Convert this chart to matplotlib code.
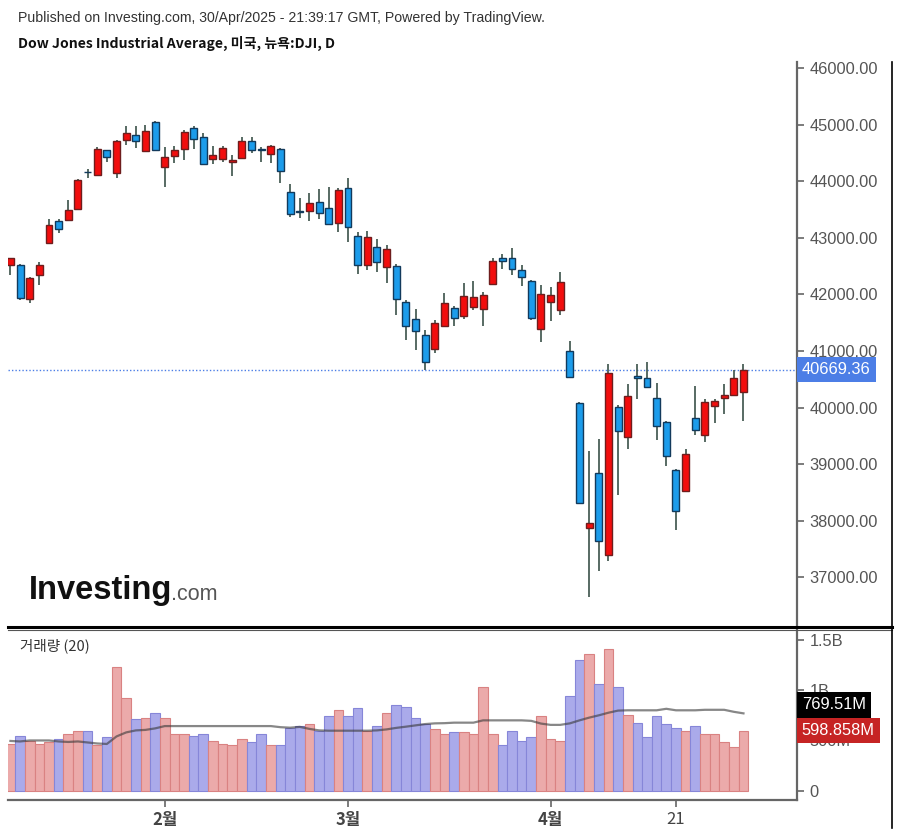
import matplotlib
matplotlib.use("Agg")
import matplotlib.pyplot as plt
from matplotlib.lines import Line2D
import numpy as np

# Daily OHLC, Dow Jones Industrial Average, 8 Jan - 30 Apr 2025
dates = ["01-08", "01-10", "01-13", "01-14", "01-15", "01-16", "01-17", "01-21", "01-22", "01-23",
         "01-24", "01-27", "01-28", "01-29", "01-30", "01-31", "02-03", "02-04", "02-05", "02-06",
         "02-07", "02-10", "02-11", "02-12", "02-13", "02-14", "02-18", "02-19", "02-20", "02-21",
         "02-24", "02-25", "02-26", "02-27", "02-28", "03-03", "03-04", "03-05", "03-06", "03-07",
         "03-10", "03-11", "03-12", "03-13", "03-14", "03-17", "03-18", "03-19", "03-20", "03-21",
         "03-24", "03-25", "03-26", "03-27", "03-28", "03-31", "04-01", "04-02", "04-03", "04-04",
         "04-07", "04-08", "04-09", "04-10", "04-11", "04-14", "04-15", "04-16", "04-17", "04-21",
         "04-22", "04-23", "04-24", "04-25", "04-28", "04-29", "04-30"]
opens = [42520, 42528, 41922, 42345, 42916, 43297, 43315, 43509, 44170, 44108,
         44544, 44138, 44733, 44815, 44532, 45050, 44250, 44438, 44567, 44945,
         44773, 44391, 44391, 44345, 44415, 44708, 44575, 44474, 44567, 43803,
         43480, 43481, 43639, 43527, 43257, 43885, 43040, 42521, 42845, 42488,
         42510, 41863, 41563, 41281, 41040, 41440, 41757, 41610, 41775, 41746,
         42181, 42640, 42645, 42439, 42239, 41387, 41863, 41727, 40993, 40088,
         37865, 38842, 37389, 40005, 39483, 40560, 40518, 40175, 39747, 38895,
         38518, 39812, 39508, 40023, 40165, 40228, 40277]
highs = [42650, 42545, 42310, 42565, 43333, 43330, 43668, 44040, 44214, 44600,
         44560, 44730, 44967, 44967, 44997, 45070, 44609, 44615, 44900, 44967,
         44849, 44627, 44620, 44461, 44785, 44785, 44609, 44640, 44580, 43950,
         43698, 43785, 43862, 43891, 43873, 44050, 43098, 43128, 42980, 42880,
         42540, 41893, 41735, 41375, 41539, 42027, 41793, 42198, 42245, 42050,
         42640, 42705, 42815, 42527, 42260, 42168, 42128, 42392, 41170, 40100,
         39230, 39442, 40775, 40050, 40411, 40775, 40805, 40433, 39760, 38910,
         39275, 40380, 40158, 40158, 40422, 40660, 40775]
lows = [42345, 41900, 41840, 42168, 42900, 43080, 43300, 43490, 44050, 44090,
        44332, 44050, 44645, 44585, 44520, 44530, 43900, 44320, 44368, 44567,
        44285, 44302, 44332, 44098, 44400, 44496, 44332, 44320, 43962, 43362,
        43350, 43305, 43333, 43220, 43110, 42934, 42369, 42428, 42392, 42205,
        41639, 41188, 41011, 40669, 40969, 41420, 41440, 41560, 41716, 41440,
        42170, 42451, 42345, 42145, 41540, 41158, 41522, 41639, 40530, 38295,
        36648, 37119, 37290, 38459, 39275, 40158, 40340, 39423, 38971, 37837,
        38500, 39508, 39395, 39735, 39883, 40200, 39765]
closes = [42635.20, 41938.45, 42297.12, 42518.28, 43221.55, 43153.13, 43487.83, 44025.81, 44156.73, 44565.07,
          44424.25, 44713.58, 44850.35, 44713.52, 44882.13, 44544.66, 44421.91, 44556.04, 44873.28, 44747.63,
          44303.40, 44470.41, 44593.65, 44368.56, 44711.43, 44546.08, 44556.34, 44627.59, 44176.65, 43428.02,
          43461.21, 43621.16, 43433.12, 43239.50, 43840.91, 43191.24, 42520.99, 43006.59, 42579.08, 42801.72,
          41911.71, 41433.48, 41350.93, 40813.57, 41488.19, 41841.63, 41581.31, 41964.63, 41953.32, 41985.35,
          42583.32, 42587.50, 42454.79, 42299.70, 41583.90, 42001.76, 41989.96, 42225.32, 40545.93, 38314.86,
          37965.60, 37645.59, 40608.45, 39593.66, 40212.71, 40524.79, 40368.96, 39669.39, 39142.23, 38170.41,
          39186.98, 39606.57, 40093.40, 40113.50, 40227.59, 40527.62, 40669.36]

# volume in billions and its 20-day average
volume = [0.465, 0.547, 0.497, 0.464, 0.488, 0.514, 0.564, 0.597, 0.597, 0.455,
          0.531, 1.234, 0.919, 0.710, 0.727, 0.770, 0.727, 0.564, 0.564, 0.547,
          0.564, 0.497, 0.464, 0.451, 0.514, 0.481, 0.564, 0.451, 0.451, 0.627,
          0.644, 0.660, 0.597, 0.740, 0.803, 0.740, 0.820, 0.597, 0.644, 0.770,
          0.853, 0.836, 0.727, 0.660, 0.614, 0.564, 0.581, 0.581, 0.564, 1.029,
          0.564, 0.451, 0.597, 0.497, 0.531, 0.740, 0.514, 0.497, 0.945, 1.300,
          1.363, 1.062, 1.410, 1.029, 0.756, 0.677, 0.531, 0.740, 0.660, 0.627,
          0.597, 0.644, 0.564, 0.564, 0.481, 0.435, 0.598858]
vol_ma = [0.495, 0.490, 0.500, 0.500, 0.500, 0.490, 0.485, 0.490, 0.480, 0.470,
          0.465, 0.540, 0.580, 0.600, 0.605, 0.620, 0.643, 0.643, 0.643, 0.643,
          0.643, 0.643, 0.643, 0.643, 0.643, 0.643, 0.643, 0.643, 0.632, 0.627,
          0.635, 0.615, 0.600, 0.597, 0.597, 0.597, 0.597, 0.597, 0.600, 0.610,
          0.625, 0.637, 0.650, 0.663, 0.670, 0.672, 0.677, 0.677, 0.677, 0.700,
          0.700, 0.700, 0.700, 0.700, 0.695, 0.668, 0.655, 0.655, 0.670, 0.700,
          0.727, 0.750, 0.776, 0.797, 0.800, 0.800, 0.800, 0.800, 0.815, 0.800,
          0.800, 0.800, 0.805, 0.805, 0.805, 0.785, 0.76951]

month_pos = ["02-03", "03-03", "04-01", "04-21"]
month_labels = ["2월", "3월", "4월", "21"]

price_ticks = [37000, 38000, 39000, 40000, 41000, 42000, 43000, 44000, 45000, 46000]
vol_ticks = [0, 0.5, 1.0, 1.5]
vol_tick_labels = ["0", "500M", "1B", "1.5B"]

UP, UP_EDGE = "#f20d0d", "#6e1d1d"
DN, DN_EDGE = "#1c9ceb", "#123a5c"
WICK = "#3b5249"
KR = ["Noto Sans CJK KR", "DejaVu Sans"]
AX_FONT = "Liberation Sans"

W, H = 900, 835
fig = plt.figure(figsize=(9, 8.35), dpi=100)

def fx(px):
    return px / W

def fy(py):
    return 1 - py / H

ax = fig.add_axes([fx(8), fy(627), fx(797) - fx(8), fy(62) - fy(627)])
axv = fig.add_axes([fx(8), fy(800), fx(797) - fx(8), fy(630) - fy(800)])

x = np.arange(len(closes))
o = np.array(opens, float)
c = np.array(closes, float)
up = c >= o

# candles
ax.vlines(x, lows, highs, color=WICK, lw=1.2, zorder=1)
body_h = np.maximum(np.abs(c - o), 8)
ax.bar(x, body_h, bottom=np.minimum(o, c), width=0.72,
       color=np.where(up, UP, DN), edgecolor=np.where(up, UP_EDGE, DN_EDGE),
       linewidth=1.0, zorder=2)

last = closes[-1]
ax.axhline(last, color="#4c7ee6", lw=1, ls=(0, (1, 1.5)), zorder=0)

ax.set_xlim(-0.25, 81.55)
ax.set_ylim(46000 - (627 - 68) / 0.0566, 46000 + (68 - 62) / 0.0566)
ax.yaxis.tick_right()
ax.set_yticks(price_ticks)
ax.set_yticklabels([f"{v:.2f}" for v in price_ticks])
ax.tick_params(axis="y", direction="out", length=5, width=1.2, colors="#666666",
               labelcolor="#555555", labelsize=11.8, pad=4)
for lab in ax.get_yticklabels():
    lab.set_fontfamily(AX_FONT)
ax.set_xticks([])
for s in ["left", "top", "bottom"]:
    ax.spines[s].set_visible(False)
ax.spines["right"].set_color("#666666")
ax.spines["right"].set_linewidth(1.6)

ax.annotate(f"{last:.2f}", xy=(1, last), xycoords=("axes fraction", "data"),
            xytext=(3.5, 0), textcoords="offset points", ha="left", va="center",
            color="white", fontsize=11.8, fontfamily=AX_FONT,
            bbox=dict(boxstyle="square,pad=0.32", fc="#4c7ee6", ec="none"),
            annotation_clip=False, zorder=5)

# volume panel
v_up = np.where(up, "#ebaaaa", "#aaaaea")
v_edge = np.where(up, "#d98282", "#8686d8")
axv.bar(x, volume, width=1.0, color=v_up, edgecolor=v_edge, linewidth=0.8, zorder=2)
axv.plot(x, vol_ma, color="#383838", alpha=0.6, lw=1.6, zorder=3)

axv.set_xlim(-0.25, 81.55)
axv.set_ylim(-(800 - 790.7) / 100.5, (790.7 - 630) / 100.5)
axv.yaxis.tick_right()
axv.set_yticks(vol_ticks)
axv.set_yticklabels(vol_tick_labels)
axv.tick_params(axis="y", direction="out", length=5, width=1.2, colors="#666666",
                labelcolor="#555555", labelsize=11.8, pad=4)
for lab in axv.get_yticklabels():
    lab.set_fontfamily(AX_FONT)
axv.set_xticks([dates.index(d) for d in month_pos])
axv.set_xticklabels(month_labels)
axv.tick_params(axis="x", direction="out", length=5, width=1.2, colors="#666666",
                labelcolor="#444444", labelsize=12, pad=3)
for lab in axv.get_xticklabels():
    lab.set_fontfamily(KR)
    if lab.get_text().endswith("월"):
        lab.set_fontweight("bold")
for s in ["left", "top"]:
    axv.spines[s].set_visible(False)
for s in ["right", "bottom"]:
    axv.spines[s].set_color("#666666")
    axv.spines[s].set_linewidth(1.6)

axv.annotate(f"{vol_ma[-1] * 1000:.2f}M", xy=(1, volume[-1]), xycoords=("axes fraction", "data"),
             xytext=(3.5, 18.5), textcoords="offset points", ha="left", va="center",
             color="white", fontsize=11.8, fontfamily=AX_FONT,
             bbox=dict(boxstyle="square,pad=0.32", fc="#000000", ec="none"),
             annotation_clip=False, zorder=5)
axv.annotate(f"{volume[-1] * 1000:.3f}M", xy=(1, volume[-1]), xycoords=("axes fraction", "data"),
             xytext=(3.5, 0), textcoords="offset points", ha="left", va="center",
             color="white", fontsize=11.8, fontfamily=AX_FONT,
             bbox=dict(boxstyle="square,pad=0.32", fc="#c62424", ec="none"),
             annotation_clip=False, zorder=5)

axv.text(12 / 789, 1 - (646 - 630) / 170, "거래량 (20)", transform=axv.transAxes,
         ha="left", va="center", fontsize=10.5, color="#333333", family=KR)

# frame lines
fig.add_artist(Line2D([fx(8), fx(892)], [fy(626.5)] * 2, color="black", lw=2.2))
fig.add_artist(Line2D([fx(8), fx(892)], [fy(629.5)] * 2, color="#555555", lw=0.8))
fig.add_artist(Line2D([fx(892)] * 2, [fy(62), fy(828)], color="black", lw=1.2))

# headers
fig.text(fx(18), fy(18), "Published on Investing.com, 30/Apr/2025 - 21:39:17 GMT, Powered by TradingView.",
         ha="left", va="center", fontsize=10.2, color="#333333", fontfamily=AX_FONT)
fig.text(fx(18), fy(43), "Dow Jones Industrial Average, 미국, 뉴욕:DJI, D",
         ha="left", va="center", fontsize=10.1, fontweight="bold", color="#111111", family=KR)

# watermark logo
t = fig.text(fx(29), fy(590), "Investing", ha="left", va="center", fontsize=23.5,
             fontweight="bold", color="#111111", fontfamily=AX_FONT)
fig.canvas.draw()
bb = t.get_window_extent()
fig.text(bb.x1 / W - 0.002, fy(595), ".com", ha="left", va="center", fontsize=15.5,
         color="#555555", fontfamily=AX_FONT)

fig.savefig("out.png", dpi=100)
